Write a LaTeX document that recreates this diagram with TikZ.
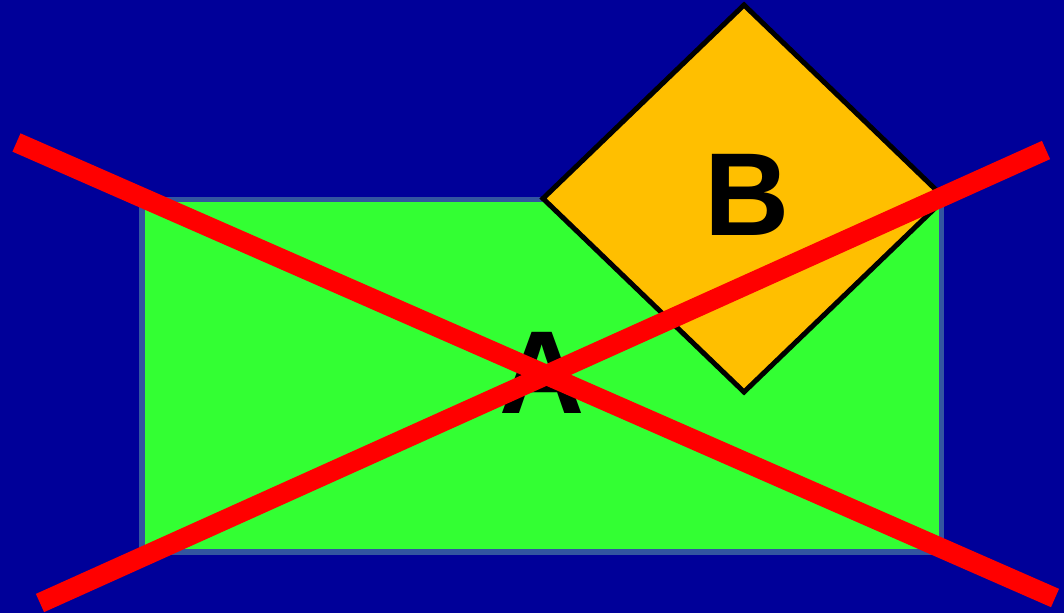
\documentclass[tikz,border=0pt]{standalone}
\usepackage{fontspec}
\setmainfont{Liberation Sans}
\usetikzlibrary{shapes.geometric}
\definecolor{bg}{RGB}{0,0,153}
\definecolor{boxgreen}{RGB}{51,255,51}
\definecolor{boxedge}{RGB}{51,85,160}
\definecolor{gold}{RGB}{255,191,0}
\definecolor{crossred}{RGB}{255,0,0}
\tikzset{
  bigletter/.style={font=\fontsize{118}{118}\selectfont\bfseries, inner sep=0pt},
  rectbox/.style={draw=boxedge, fill=boxgreen, line width=5.5pt, minimum width=799.5pt, minimum height=352.5pt, inner sep=0pt, outer sep=0pt},
  diabox/.style={diamond, draw=black, fill=gold, line width=5pt, minimum width=402pt, minimum height=387pt, inner sep=0pt, outer sep=0pt},
  crossline/.style={draw=crossred, line width=20pt}
}
\begin{document}
\begin{tikzpicture}[x=1pt,y=-1pt]
\fill[bg] (0,0) rectangle (1064,613);
\useasboundingbox (0,0) rectangle (1064,613);
\node[rectbox, label={[bigletter, xshift=0.5pt, yshift=2.5pt]center:A}] (A) at (541.75,375.75) {};
\node[diabox, label={[bigletter, xshift=3pt, yshift=4pt]center:B}] (B) at (744,198.5) {};
\coordinate (c1s) at (16.5,142.5);
\coordinate (c1e) at (1055,598);
\coordinate (c2s) at (40,603);
\coordinate (c2e) at (1046,150);
\draw[crossline] (c1s) -- (c1e);
\draw[crossline] (c2s) -- (c2e);
\end{tikzpicture}
\end{document}
